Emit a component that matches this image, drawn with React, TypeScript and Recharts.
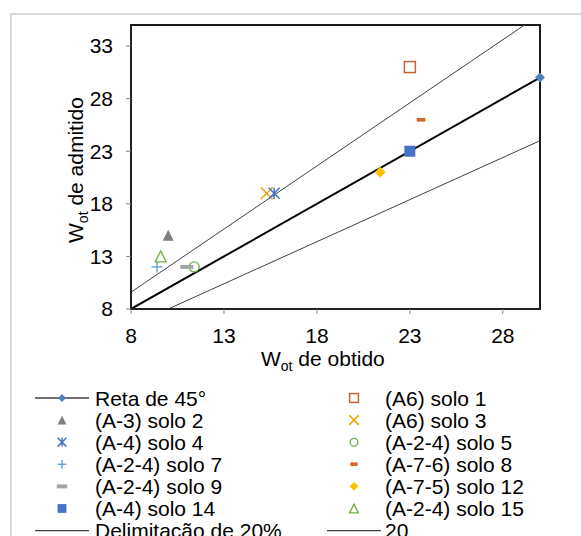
import React from "react";
import {
  ComposedChart,
  XAxis,
  YAxis,
  Scatter,
  ReferenceLine,
  ReferenceArea,
} from "recharts";

const FONT = '"Liberation Sans", Arial, sans-serif';

// ---- data ----
const soloLabels = [
  "(A6) solo 1",
  "(A-3) solo 2",
  "(A6) solo 3",
  "(A-4) solo 4",
  "(A-2-4) solo 5",
  "(A-2-4) solo 7",
  "(A-7-6) solo 8",
  "(A-2-4) solo 9",
  "(A-7-5) solo 12",
  "(A-4) solo 14",
  "(A-2-4) solo 15",
];
const wotObtido = [23, 10, 15.3, 15.7, 11.4, 9.4, 23.6, 11, 21.4, 23, 9.6];
const wotAdmitido = [31, 15, 19, 19, 12, 12, 26, 12, 21, 23, 13];

const retaX = [0, 30];
const retaY = [0, 30];
const delimX = [0, 30];
const delimSupY = [0, 36];
const delimInfY = [0, 24];

const xTicks = [8, 13, 18, 23, 28];
const yTicks = [8, 13, 18, 23, 28, 33];
const X_DOMAIN = [8, 30];
const Y_DOMAIN = [8, 35];

// ---- marker styles (same order as soloLabels) ----
const markerStyles = [
  { kind: "squareOpen", color: "#c8642d", size: 11 },
  { kind: "triFilled", color: "#7f7f7f", size: 11 },
  { kind: "cross", color: "#e8a202", size: 12 },
  { kind: "asterisk", color: "#4472c4", size: 11 },
  { kind: "circleOpen", color: "#70ad47", size: 11 },
  { kind: "plus", color: "#5b9bd5", size: 11 },
  { kind: "dash", color: "#e2661f", size: 8 },
  { kind: "dashGray", color: "#a5a5a5", size: 13 },
  { kind: "diamondFilled", color: "#ffc000", size: 11 },
  { kind: "squareFilled", color: "#4472c4", size: 11 },
  { kind: "triOpen", color: "#70ad47", size: 11 },
];
const retaMarker = { kind: "diamondFilled", color: "#4f81bd", size: 10 };

function Marker({ kind, color, size, cx, cy }) {
  const h = size / 2;
  switch (kind) {
    case "squareOpen":
      return <rect x={cx - h} y={cy - h} width={size} height={size} fill="none" stroke={color} strokeWidth={1.5} />;
    case "squareFilled":
      return <rect x={cx - h} y={cy - h} width={size} height={size} fill={color} />;
    case "triFilled":
      return <polygon points={`${cx},${cy - h} ${cx + h},${cy + h} ${cx - h},${cy + h}`} fill={color} />;
    case "triOpen":
      return (
        <polygon points={`${cx},${cy - h} ${cx + h},${cy + h} ${cx - h},${cy + h}`} fill="none" stroke={color} strokeWidth={1.3} />
      );
    case "cross":
      return (
        <g stroke={color} strokeWidth={1.5}>
          <line x1={cx - h} y1={cy - h} x2={cx + h} y2={cy + h} />
          <line x1={cx - h} y1={cy + h} x2={cx + h} y2={cy - h} />
        </g>
      );
    case "asterisk":
      return (
        <g stroke={color} strokeWidth={1.5}>
          <line x1={cx - h} y1={cy - h} x2={cx + h} y2={cy + h} />
          <line x1={cx - h} y1={cy + h} x2={cx + h} y2={cy - h} />
          <line x1={cx} y1={cy - h} x2={cx} y2={cy + h} />
        </g>
      );
    case "circleOpen":
      return <circle cx={cx} cy={cy} r={h - 0.5} fill="none" stroke={color} strokeWidth={1.3} />;
    case "plus":
      return (
        <g stroke={color} strokeWidth={1.3}>
          <line x1={cx - h} y1={cy} x2={cx + h} y2={cy} />
          <line x1={cx} y1={cy - h} x2={cx} y2={cy + h} />
        </g>
      );
    case "dash":
      return <rect x={cx - h} y={cy - 1.5} width={size} height={3} fill={color} stroke="#b04a10" strokeWidth={0.5} />;
    case "dashGray":
      return <rect x={cx - h} y={cy - 2} width={size} height={4} fill={color} />;
    case "diamondFilled":
      return <polygon points={`${cx},${cy - h} ${cx + h},${cy} ${cx},${cy + h} ${cx - h},${cy}`} fill={color} />;
    default:
      return null;
  }
}

const shapeFor = (st) => (props) => <Marker {...st} cx={props.cx} cy={props.cy} />;

// legend entries, row-major in 2 columns
const legendItems = [
  { label: "Reta de 45°", line: "#404040", marker: retaMarker },
  ...soloLabels.map((label, i) => ({ label, marker: markerStyles[i] })),
  { label: "Delimitação de 20%", line: "#404040" },
  { label: "20", line: "#404040" },
];

function LegendBlock() {
  const colX = [62, 354];
  const textX = [95, 385];
  const top = 398;
  const step = 22.1;
  return (
    <svg width={581} height={536} style={{ position: "absolute", left: 0, top: 0, pointerEvents: "none" }}>
      {legendItems.map((it, i) => {
        const c = i % 2;
        const r = Math.floor(i / 2);
        const cy = top + r * step;
        const cx = colX[c];
        return (
          <g key={i}>
            {it.line && <line x1={cx - 27} y1={cy} x2={cx + 27} y2={cy} stroke={it.line} strokeWidth={1.3} />}
            {it.marker && <Marker {...it.marker} size={it.marker.size * 0.8} cx={cx} cy={cy} />}
            <text x={textX[c]} y={cy} dy="0.36em" fontSize={21} fontFamily={FONT} fill="#000">
              {it.label}
            </text>
          </g>
        );
      })}
    </svg>
  );
}

export default function App() {
  const soloSeries = soloLabels.map((label, i) => ({
    label,
    data: [{ x: wotObtido[i], y: wotAdmitido[i] }],
  }));
  const retaPoints = retaX
    .map((x, i) => ({ x, y: retaY[i] }))
    .filter((p) => p.x >= X_DOMAIN[0] && p.y >= Y_DOMAIN[0]);

  return (
    <div
      style={{
        position: "fixed",
        left: 0,
        top: 0,
        width: 581,
        height: 536,
        background: "#fff",
        overflow: "hidden",
        fontFamily: FONT,
      }}
    >
      <div
        style={{
          position: "absolute",
          left: 10,
          top: 13,
          width: 620,
          height: 620,
          border: "2px solid #d9d9d9",
        }}
      />
      <div style={{ position: "absolute", left: 0, top: 0 }}>
        <ComposedChart width={581} height={536} margin={{ top: 25, right: 41, bottom: 167, left: 0 }}>
          <XAxis
            type="number"
            dataKey="x"
            domain={X_DOMAIN}
            ticks={xTicks}
            height={60}
            tickSize={5}
            tickMargin={14}
            axisLine={{ stroke: "#222", strokeWidth: 2 }}
            tickLine={{ stroke: "#808080" }}
            tick={{ fill: "#000", fontSize: 21, fontFamily: FONT }}
          />
          <YAxis
            type="number"
            dataKey="y"
            domain={Y_DOMAIN}
            ticks={yTicks}
            width={131}
            tickSize={5}
            tickMargin={13}
            axisLine={{ stroke: "#222", strokeWidth: 2 }}
            tickLine={{ stroke: "#808080" }}
            tick={{ fill: "#000", fontSize: 21, fontFamily: FONT }}
          />
          <ReferenceArea
            x1={X_DOMAIN[0]}
            x2={X_DOMAIN[1]}
            y1={Y_DOMAIN[0]}
            y2={Y_DOMAIN[1]}
            fill="none"
            fillOpacity={0}
            stroke="#1a1a1a"
            strokeWidth={2}
            ifOverflow="visible"
          />
          <ReferenceLine
            segment={[
              { x: delimX[0], y: delimSupY[0] },
              { x: delimX[1], y: delimSupY[1] },
            ]}
            ifOverflow="hidden"
            stroke="#404040"
            strokeWidth={1}
          />
          <ReferenceLine
            segment={[
              { x: delimX[0], y: delimInfY[0] },
              { x: delimX[1], y: delimInfY[1] },
            ]}
            ifOverflow="hidden"
            stroke="#404040"
            strokeWidth={1}
          />
          <ReferenceLine
            segment={[
              { x: retaX[0], y: retaY[0] },
              { x: retaX[1], y: retaY[1] },
            ]}
            ifOverflow="hidden"
            stroke="#000"
            strokeWidth={2}
          />
          <Scatter name="Reta de 45°" data={retaPoints} shape={shapeFor(retaMarker)} isAnimationActive={false} />
          {soloSeries.map((s, i) => (
            <Scatter
              key={s.label}
              name={s.label}
              data={s.data}
              shape={shapeFor(markerStyles[i])}
              isAnimationActive={false}
            />
          ))}
        </ComposedChart>
      </div>
      <svg width={581} height={536} style={{ position: "absolute", left: 0, top: 0, pointerEvents: "none" }}>
        <text x={261} y={366} fontSize={21} fontFamily={FONT} fill="#000">
          W<tspan fontSize={14} dy={5}>ot</tspan>
          <tspan dy={-5}> de obtido</tspan>
        </text>
        <text
          x={83}
          y={170}
          transform="rotate(-90, 83, 170)"
          textAnchor="middle"
          fontSize={21}
          fontFamily={FONT}
          fill="#000"
        >
          W<tspan fontSize={14} dy={5}>ot</tspan>
          <tspan dy={-5}> de admitido</tspan>
        </text>
      </svg>
      <LegendBlock />
    </div>
  );
}
